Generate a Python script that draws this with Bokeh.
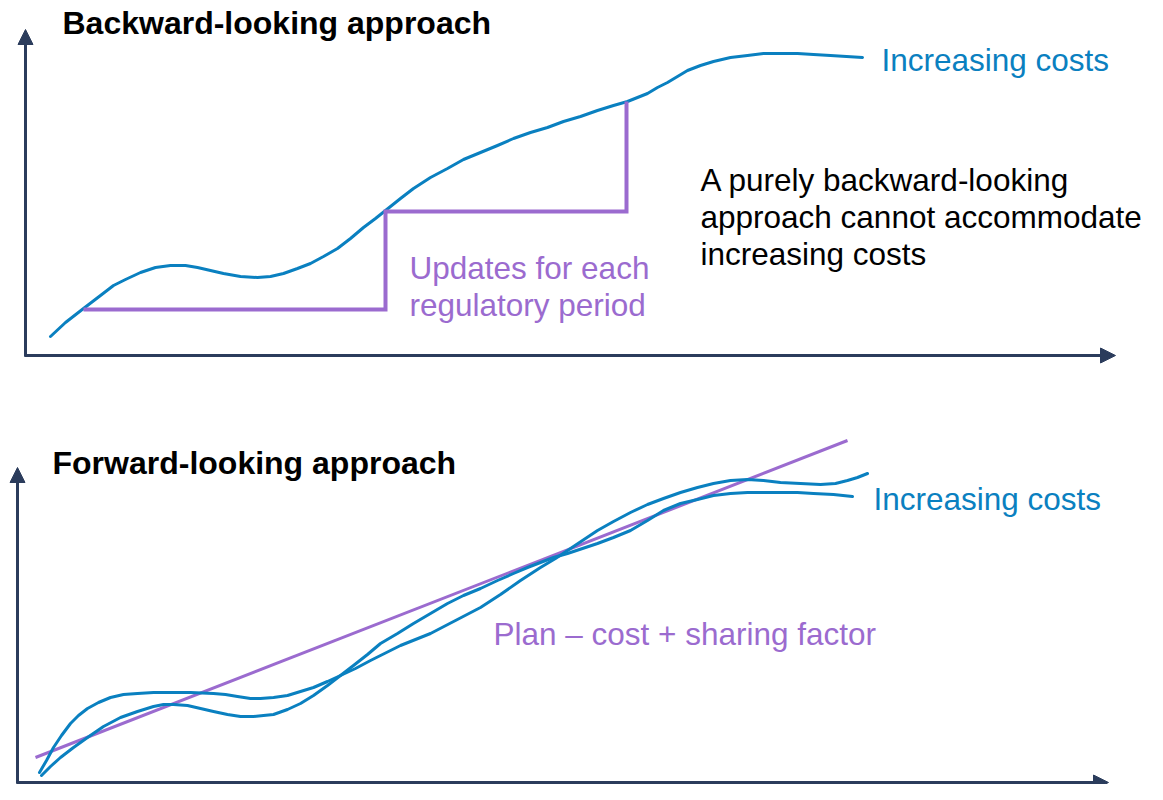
from bokeh.plotting import figure
from bokeh.models import Range1d, Arrow, NormalHead
from bokeh.core.properties import value
from bokeh.embed import file_html
from bokeh.resources import INLINE

# ---------------- data (picture pixel coordinates, y grows downward) ----------------
# Top panel: backward-looking approach
top_cost_x = [50, 65, 83, 100, 113, 125, 140, 155, 170, 185, 197, 210, 223, 240, 257, 270, 283, 297,
              310, 323, 337, 350, 363, 375, 385, 400, 413, 430, 447, 463, 480, 497, 513, 530, 547,
              563, 580, 597, 613, 627, 637, 647, 657, 667, 677, 687, 700, 713, 730, 747, 763, 780,
              797, 813, 830, 846, 862]
top_cost_y = [336, 322, 308, 295, 285, 279, 272, 267, 265, 265, 267, 270, 273, 276, 277, 276, 273, 268,
              263, 256, 248, 238, 227, 218, 210, 198, 188, 177, 168, 159, 152, 145, 138, 132, 127,
              121, 116, 110, 105, 101, 97, 93, 87, 82, 76, 70, 65, 61, 57, 55, 53, 53,
              53, 54, 55, 56, 57]
step_x = [83, 385, 385, 626, 626]
step_y = [309, 309, 211, 211, 101]

# Bottom panel: forward-looking approach
costA_x = [39, 46, 53, 61, 70, 78, 87, 98, 110, 123, 137, 153, 170, 190, 213, 225, 237, 250, 260, 273,
           287, 300, 313, 327, 340, 355, 370, 380, 400, 430, 455, 480, 500, 520, 540, 555, 567, 582,
           597, 613, 630, 647, 663, 680, 697, 713, 730, 747, 763, 780, 800, 820, 835, 847, 857, 867]
costA_y = [772, 760, 747, 735, 723, 715, 708, 702, 697, 694, 693, 692, 692, 692, 693, 694, 696, 698, 698, 697,
           695, 691, 687, 681, 675, 668, 660, 655, 645, 633, 620, 607, 594, 580, 567, 558, 550, 540,
           530, 521, 512, 504, 498, 492, 487, 483, 480, 479, 480, 482, 483, 484, 483, 480, 477, 473]
costB_x = [41, 50, 60, 73, 87, 103, 120, 137, 153, 163, 173, 187, 200, 213, 227, 240, 253, 263, 273, 287,
           300, 313, 327, 340, 353, 367, 380, 397, 413, 430, 447, 463, 480, 497, 513, 527, 540, 553,
           567, 582, 597, 613, 630, 647, 663, 680, 697, 713, 730, 747, 763, 780, 797, 813, 833, 852]
costB_y = [775, 766, 757, 747, 737, 726, 717, 711, 706, 704, 704, 705, 708, 711, 714, 716, 716, 715, 714, 709,
           703, 695, 685, 675, 665, 654, 643, 633, 623, 613, 603, 595, 588, 580, 573, 567, 562, 557,
           553, 548, 543, 537, 530, 520, 510, 503, 499, 495, 493, 492, 492, 492, 492, 493, 494, 496]
plan_x = [35, 847]
plan_y = [757, 440]

# Texts
title_text = ["Backward-looking approach", "Forward-looking approach"]
title_x = [62, 52]
title_y = [22, 462]
blue_text = ["Increasing costs", "Increasing costs"]
blue_x = [881, 873]
blue_y = [59, 498]
note_text = ["A purely backward-looking", "approach cannot accommodate", "increasing costs"]
note_x = [700, 700, 700]
note_y = [179, 216, 253]
purple_text = ["Updates for each", "regulatory period", "Plan \u2013 cost + sharing factor"]
purple_x = [409, 409, 493]
purple_y = [267, 304, 633]

# ---------------- styling ----------------
BLUE = "#0A80C0"
PURPLE = "#9B6BCF"
NAVY = "#2B3C5C"
FONT = value("Liberation Sans")
FS_TITLE = "32px"
FS = "31.5px"

p = figure(width=1147, height=784, x_range=Range1d(0, 1147), y_range=Range1d(784, 0),
           toolbar_location=None, output_backend="svg", x_axis_type=None, y_axis_type=None,
           min_border=0)
p.grid.visible = False
p.outline_line_color = None
p.background_fill_color = "white"
p.border_fill_color = "white"

# axes with arrows
def axis_arrow(x0, y0, x1, y1):
    p.add_layout(Arrow(end=NormalHead(size=15, fill_color=NAVY, line_color=NAVY, line_width=1),
                       x_start=x0, y_start=y0, x_end=x1, y_end=y1,
                       line_color=NAVY, line_width=3))

axis_arrow(25, 356, 25, 29)
axis_arrow(24, 355, 1115, 355)
axis_arrow(17, 783, 17, 467)
axis_arrow(16, 782, 1108, 782)

# lines
p.line(top_cost_x, top_cost_y, line_color=BLUE, line_width=3, line_join="round", line_cap="round")
p.line(step_x, step_y, line_color=PURPLE, line_width=4, line_join="miter")
p.line(plan_x, plan_y, line_color=PURPLE, line_width=3)
p.line(costA_x, costA_y, line_color=BLUE, line_width=3, line_join="round", line_cap="round")
p.line(costB_x, costB_y, line_color=BLUE, line_width=3, line_join="round", line_cap="round")

# texts
p.text(title_x, title_y, text=title_text, text_font=FONT, text_font_size=FS_TITLE,
       text_font_style="bold", text_color="black", text_baseline="alphabetic", text_align="left")
p.text(blue_x, blue_y, text=blue_text, text_font=FONT, text_font_size=FS,
       text_color=BLUE, text_baseline="alphabetic", text_align="left")
p.text(note_x, note_y, text=note_text, text_font=FONT, text_font_size=FS,
       text_color="black", text_baseline="alphabetic", text_align="left")
p.text(purple_x, purple_y, text=purple_text, text_font=FONT, text_font_size=FS,
       text_color=PURPLE, text_baseline="alphabetic", text_align="left")

open("out.html", "w").write(file_html(p, INLINE))
